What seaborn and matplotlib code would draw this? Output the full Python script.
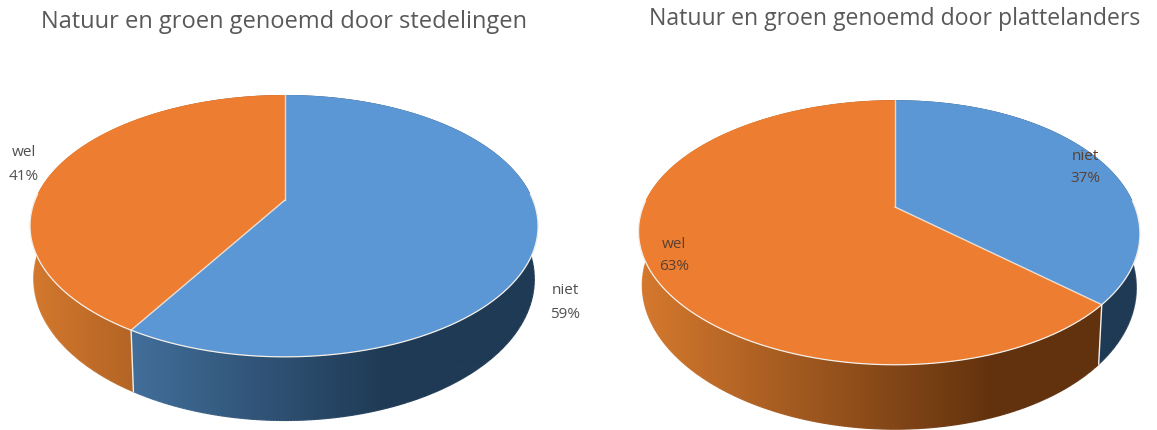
#!/usr/bin/env python3
# -*- coding: utf-8 -*-
"""3D look pie charts: natuur en groen genoemd door stedelingen / plattelanders."""

import numpy as np
import matplotlib
matplotlib.use("Agg")
import matplotlib.pyplot as plt
from matplotlib.collections import LineCollection
from matplotlib.patches import Polygon
import seaborn as sns

# --- DATA ---
CATEGORIES = ["niet", "wel"]
STEDELINGEN = [59, 41]
PLATTELANDERS = [37, 63]
TITLE_LEFT = "Natuur en groen genoemd door stedelingen"
TITLE_RIGHT = "Natuur en groen genoemd door plattelanders"

# --- STYLE ---
TOP_COLORS = ["#5b97d5", "#ed7d31"]
SIDE_COLORS = [("#4f82b4", "#1f3a55"), ("#d2772d", "#62320e")]
EDGE = "#f4efe8"
N_SHADES = 256

sns.set_theme(style="white")
plt.rcParams["font.family"] = ["Open Sans", "DejaVu Sans"]


def warp(theta):
    # front slices sit a touch further round in the original
    return theta - 0.033 * np.clip(-np.cos(theta), 0, None)


def project(theta, geo):
    """Map an angle (clockwise from the top) on the disc to pixels, with perspective."""
    theta = warp(theta)
    u, v = np.sin(theta), np.cos(theta)
    w = 1 + geo["k"] * v
    return geo["cx"] + geo["a"] * u / w - geo["shift"] * (1 - v ** 2), geo["cy"] - geo["b"] * v / w


def project_low(theta, geo):
    x, y = project(theta, geo)
    w = 1 + geo["k"] * np.cos(warp(theta))
    return geo["cx"] + (x - geo["cx"]) * 0.985, y + geo["depth"] / w


def shade_index(x, geo):
    rel = (np.asarray(x) - geo["cx"]) / geo["a"]
    return (np.clip((rel + 1) / 1.4, 0, 1) * (N_SHADES - 1)).astype(int)


def draw_pie(ax, values, geo):
    values = np.array(values, dtype=float)
    edges = np.concatenate([[0], np.cumsum(values)]) / values.sum() * 2 * np.pi

    # side wall first, the top disc covers whatever lies behind it
    for i in range(len(values)):
        pal = np.array(sns.blend_palette(SIDE_COLORS[i], N_SHADES))[:, :3]
        th = np.linspace(edges[i], edges[i + 1], 400)
        xt, yt = project(th, geo)
        xb, yb = project_low(th, geo)
        wall = Polygon(np.c_[np.r_[xt, xb[::-1]], np.r_[yt, yb[::-1]]], closed=True, transform=ax.transData)
        xs = np.arange(geo["cx"] - geo["a"] - 20, geo["cx"] + geo["a"] + 20)
        img = pal[shade_index(xs, geo)][None, :, :]
        im = ax.imshow(img, extent=(xs[0], xs[-1], 430, 0), aspect="auto", zorder=2, interpolation="bilinear")
        im.set_clip_path(wall)
        # soft outer rim so the clipped gradient has no jagged edge
        pts = np.c_[xb, yb]
        segs = np.stack([pts[:-1], pts[1:]], axis=1)
        ax.add_collection(LineCollection(segs, colors=pal[shade_index(xb[:-1], geo)], linewidths=0.9, zorder=2))

    # seams on the wall
    for e in edges[:-1]:
        xt, yt = project(e, geo)
        xb, yb = project_low(e, geo)
        if np.cos(e) < 0:
            ax.plot([xt, xb], [yt, yb], color=EDGE, lw=1.0, zorder=3)

    # top disc
    for i in range(len(values)):
        th = np.linspace(edges[i], edges[i + 1], 400)
        x, y = project(th, geo)
        ax.fill(np.r_[geo["cx"], x], np.r_[geo["cy"], y], color=TOP_COLORS[i], lw=0, zorder=4)
    for e in edges[:-1]:
        x, y = project(e, geo)
        ax.plot([geo["cx"], x], [geo["cy"], y], color=EDGE, lw=1.0, alpha=0.8, zorder=5)
    th = np.linspace(np.pi / 2 - 0.05, 3 * np.pi / 2 + 0.05, 600)
    x, y = project(th, geo)
    ax.plot(x, y, color=EDGE, lw=0.9, zorder=5)


fig = plt.figure(figsize=(11.57, 4.30), dpi=100)
ax = fig.add_axes([0, 0, 1, 1])
ax.axis("off")

GEO_LEFT = dict(cx=285, cy=200, a=249, b=125.8, k=0.198, depth=51, shift=1)
GEO_RIGHT = dict(cx=895, cy=207, a=246, b=127.4, k=0.1925, depth=52, shift=6)

draw_pie(ax, STEDELINGEN, GEO_LEFT)
draw_pie(ax, PLATTELANDERS, GEO_RIGHT)

ax.text(284, 22, TITLE_LEFT, ha="center", va="center", fontsize=17, color="#595959")
ax.text(895, 19, TITLE_RIGHT, ha="center", va="center", fontsize=16.6, color="#595959")

LABEL_POS = [
    (STEDELINGEN, [(565, 291, 314), (24, 152, 177)], "#505050"),
    (PLATTELANDERS, [(1085, 156, 179), (674, 245, 267)], "#5a4030"),
]
for vals, spots, col in LABEL_POS:
    for name, val, (x, y1, y2) in zip(CATEGORIES, vals, spots):
        ax.text(x, y1, name, ha="center", va="center", fontsize=11, color=col, zorder=6)
        ax.text(x, y2, f"{val}%", ha="center", va="center", fontsize=11, color=col, zorder=6)

ax.set_xlim(0, 1157)
ax.set_ylim(430, 0)
fig.savefig("out.png", dpi=100)
